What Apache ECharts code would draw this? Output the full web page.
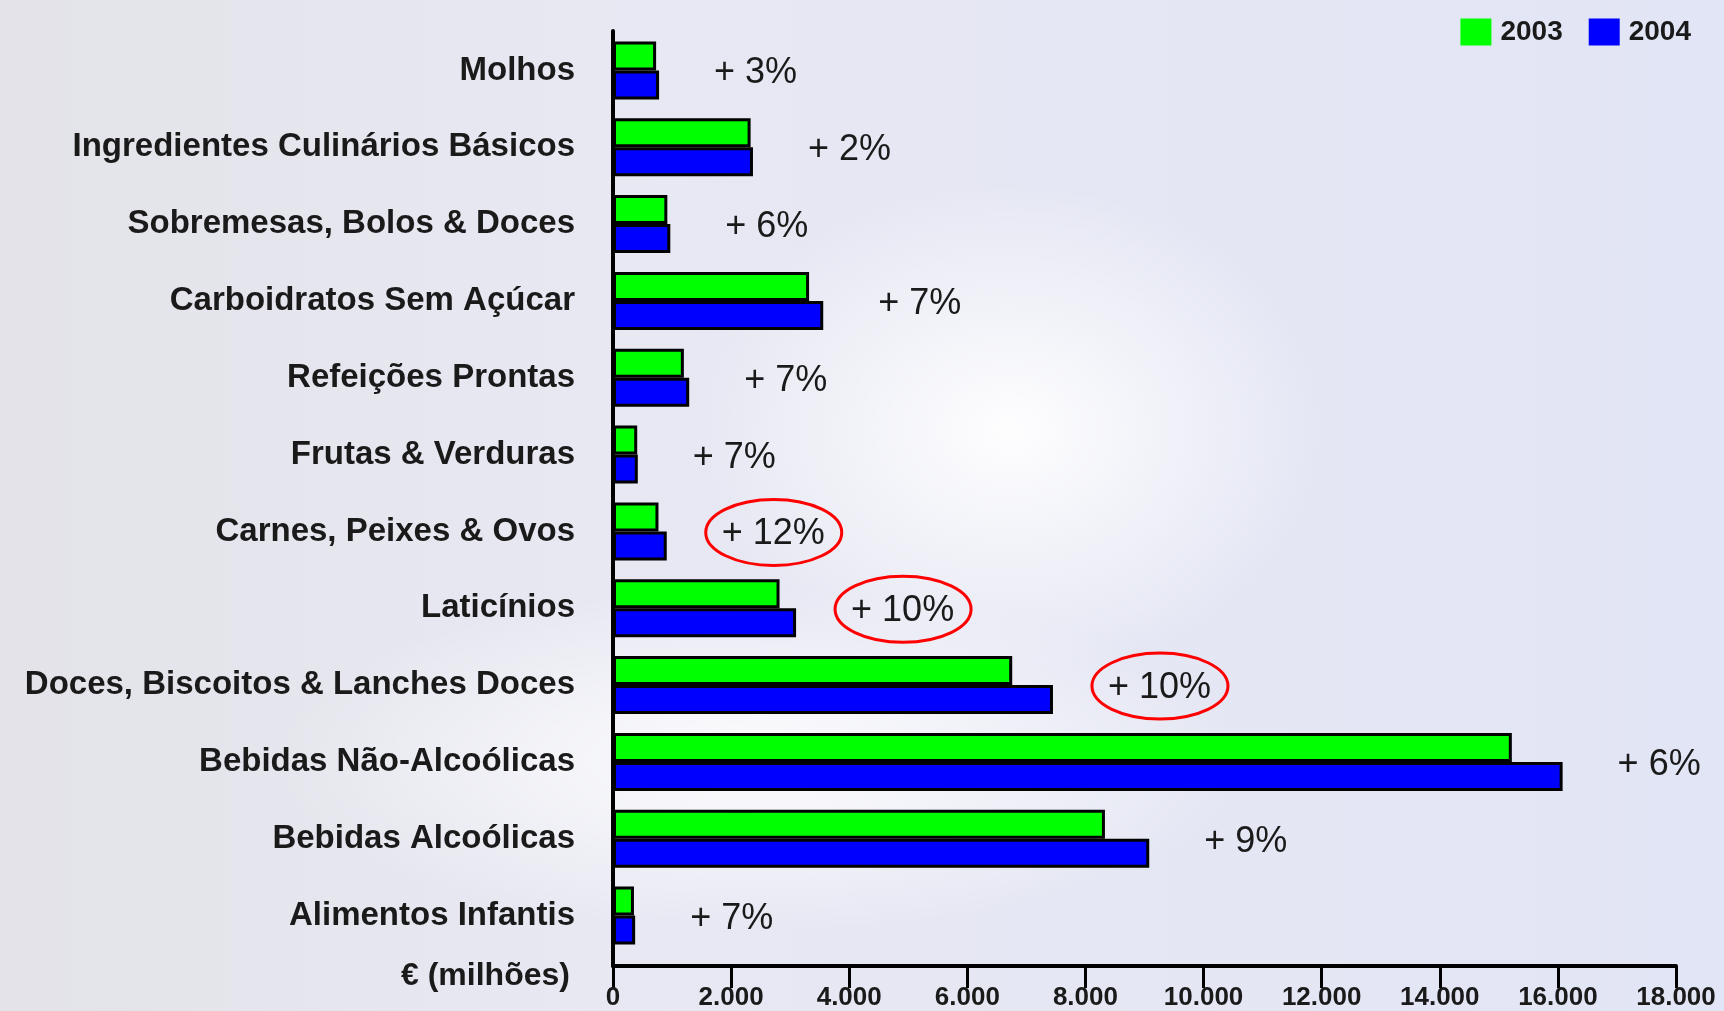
<!DOCTYPE html>
<html>
<head>
<meta charset="utf-8">
<script src="https://cdn.jsdelivr.net/npm/echarts@6/dist/echarts.min.js"></script>
<style>
    html, body { margin: 0; padding: 0; }
    body {
        background:
            radial-gradient(ellipse 420px 330px at 1010px 430px, rgba(255,255,255,0.95), rgba(255,255,255,0) 75%),
            radial-gradient(ellipse 650px 230px at 760px 760px, rgba(255,255,255,0.9), rgba(255,255,255,0) 75%),
            linear-gradient(90deg, #e3e3e9 0%, #e7e8f2 35%, #e2e5f5 100%);
    }
    #chart { width: 1724px; height: 1011px; }
</style>
</head>
<body>
<div id="chart"></div>
<script>
var categories = [
    'Molhos',
    'Ingredientes Culinários Básicos',
    'Sobremesas, Bolos & Doces',
    'Carboidratos Sem Açúcar',
    'Refeições Prontas',
    'Frutas & Verduras',
    'Carnes, Peixes & Ovos',
    'Laticínios',
    'Doces, Biscoitos & Lanches Doces',
    'Bebidas Não-Alcoólicas',
    'Bebidas Alcoólicas',
    'Alimentos Infantis'
];
var values2003 = [730, 2330, 920, 3320, 1200, 410, 770, 2820, 6760, 15220, 8330, 355];
var values2004 = [780, 2370, 970, 3560, 1290, 420, 910, 3100, 7450, 16080, 9080, 375];
var growth = ['+ 3%', '+ 2%', '+ 6%', '+ 7%', '+ 7%', '+ 7%', '+ 12%', '+ 10%', '+ 10%', '+ 6%', '+ 9%', '+ 7%'];
var circled = [0, 0, 0, 0, 0, 0, 1, 1, 1, 0, 0, 0];
var seriesNames = ['2003', '2004'];

var FONT = "'Liberation Sans', Arial, sans-serif";

var myChart = echarts.init(document.getElementById('chart'));

var growthData = categories.map(function (c, i) {
    return [values2004[i], i, circled[i]];
});

var option = {
    animation: false,
    backgroundColor: 'transparent',
    title: {
        text: '€ (milhões)',
        left: 396,
        top: 955,
        textStyle: { fontFamily: FONT, fontSize: 32, fontWeight: 'bold', color: '#1a1a1a' }
    },
    legend: {
        data: seriesNames,
        right: 28,
        top: 13,
        itemWidth: 31,
        itemHeight: 27,
        itemGap: 26,
        icon: 'rect',
        itemStyle: { borderWidth: 0 },
        textStyle: { fontFamily: FONT, fontSize: 28, fontWeight: 'bold', color: '#1a1a1a', padding: [0, 0, 0, 4] }
    },
    grid: [
        { left: 613, right: 48, top: 32, bottom: 57 },
        { left: 613, right: 48, top: 31, bottom: 41 }
    ],
    xAxis: [
        { type: 'value', gridIndex: 0, min: 0, max: 18000, interval: 2000, show: false },
        {
            type: 'value', gridIndex: 1, min: 0, max: 18000, interval: 2000,
            axisLine: { show: true, lineStyle: { color: '#000', width: 4 } },
            axisTick: { show: true, length: 22, lineStyle: { color: '#000', width: 3 } },
            splitLine: { show: false },
            axisLabel: {
                margin: 19,
                fontFamily: FONT, fontSize: 26, fontWeight: 'bold', color: '#1a1a1a',
                formatter: function (v) {
                    return String(v).replace(/\B(?=(\d{3})+(?!\d))/g, '.');
                }
            }
        }
    ],
    yAxis: [
        {
            type: 'category', gridIndex: 0, inverse: true, data: categories,
            axisLine: { show: false },
            axisTick: { show: false },
            axisLabel: { margin: 38, fontFamily: FONT, fontSize: 33, fontWeight: 'bold', color: '#1a1a1a' }
        },
        {
            type: 'category', gridIndex: 1, data: [''],
            axisLine: { show: true, lineStyle: { color: '#000', width: 4 } },
            axisTick: { show: false },
            axisLabel: { show: false }
        }
    ],
    series: [
        {
            name: seriesNames[0],
            type: 'bar',
            xAxisIndex: 0, yAxisIndex: 0,
            barWidth: 29,
            barGap: 0,
            itemStyle: { color: '#00ff00', borderColor: '#000', borderWidth: 3 },
            data: values2003
        },
        {
            name: seriesNames[1],
            type: 'bar',
            xAxisIndex: 0, yAxisIndex: 0,
            barWidth: 29,
            barGap: 0,
            itemStyle: { color: '#0000ff', borderColor: '#000', borderWidth: 3 },
            data: values2004
        },
        {
            type: 'custom',
            xAxisIndex: 0, yAxisIndex: 0,
            encode: { x: 0, y: 1 },
            clip: false,
            silent: true,
            data: growthData,
            renderItem: function (params, api) {
                var p = api.coord([api.value(0), api.value(1)]);
                var x = p[0] + 55;
                var y = p[1] + 3;
                var children = [{
                    type: 'text',
                    x: x,
                    y: y,
                    style: {
                        text: growth[params.dataIndex],
                        fontFamily: FONT,
                        fontSize: 36,
                        fill: '#1a1a1a',
                        align: 'left',
                        verticalAlign: 'middle'
                    }
                }];
                if (api.value(2)) {
                    children.push({
                        type: 'ellipse',
                        shape: { cx: x + 52, cy: y - 2, rx: 68, ry: 33 },
                        style: { fill: 'none', stroke: '#ff0000', lineWidth: 3 }
                    });
                }
                return { type: 'group', children: children };
            }
        }
    ]
};

myChart.setOption(option);

window.addEventListener('resize', function () {
    myChart.resize();
});
</script>
</body>
</html>
